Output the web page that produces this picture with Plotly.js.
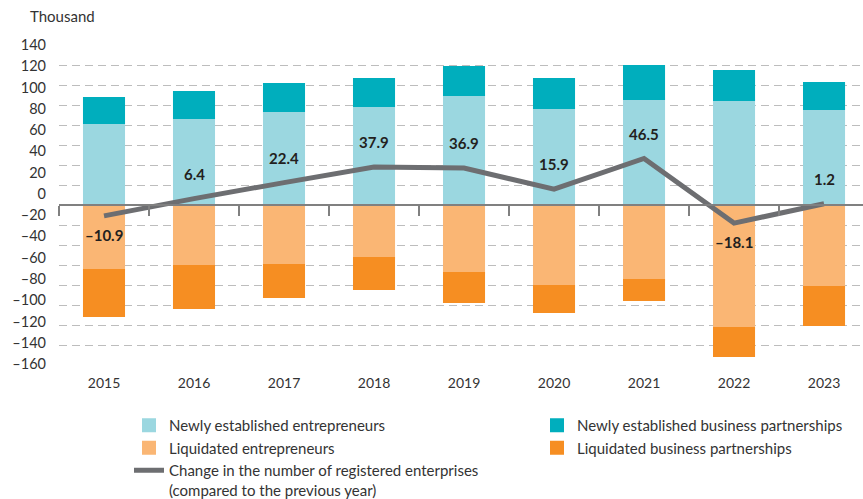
<!DOCTYPE html>
<html>
<head>
<meta charset="utf-8">
<script src="https://cdn.plot.ly/plotly-3.0.1.min.js"></script>
<style>html,body{margin:0;padding:0;background:#fff;}#chart{width:863px;height:499px;}</style>
</head>
<body>
<div id="chart"></div>
<script>
// Data (thousand)
const years = ['2015','2016','2017','2018','2019','2020','2021','2022','2023'];
const newEntrepreneurs = [82, 87, 94, 99, 110, 97, 106, 105, 96];
const newPartnerships = [25, 26, 27, 27, 28, 29, 33, 29, 26];
const liquidatedEntrepreneurs = [-65, -61, -60, -53, -68, -81, -75, -123, -82];
const liquidatedPartnerships = [-46, -42, -32, -31, -29, -26, -20, -28, -38];
const changeRegistered = [-10.9, 6.4, 22.4, 37.9, 36.9, 15.9, 46.5, -18.1, 1.2];
const yTickValues = [140, 120, 100, 80, 60, 40, 20, 0, -20, -40, -60, -80, -100, -120, -140, -160];

const fmt = v => (v < 0 ? '\u2013' + Math.abs(v) : String(v));
const fmt1 = v => (v < 0 ? '\u2013' + Math.abs(v).toFixed(1) : v.toFixed(1));

const FONT = 'Lato, "Open Sans", sans-serif';
const TXT = '#333333';
const BW = 0.445;

const traces = [
  {type:'bar', x:years, y:newEntrepreneurs, name:'Newly established entrepreneurs',
   marker:{color:'#9bd7e0', line:{color:'#9bd7e0', width:2}}, width:BW, legend:'legend', hoverinfo:'skip'},
  {type:'bar', x:years, y:liquidatedEntrepreneurs, name:'Liquidated entrepreneurs',
   marker:{color:'#fab674', line:{color:'#fab674', width:2}}, width:BW, legend:'legend', hoverinfo:'skip'},
  {type:'bar', x:years, y:newPartnerships, name:'Newly established business partnerships',
   marker:{color:'#00aebd', line:{color:'#00aebd', width:2}}, width:BW, legend:'legend2', hoverinfo:'skip'},
  {type:'bar', x:years, y:liquidatedPartnerships, name:'Liquidated business partnerships',
   marker:{color:'#f68e22', line:{color:'#f68e22', width:2}}, width:BW, legend:'legend2', hoverinfo:'skip'},
  {type:'scatter', mode:'lines', x:years, y:changeRegistered,
   name:'Change in the number of registered enterprises<br>(compared to the previous year)',
   line:{color:'#6d6e71', width:5}, legend:'legend', hoverinfo:'skip'},
  // empty helper traces so the label axis and the zero axis exist
  {type:'scatter', mode:'lines', x:[], y:[], xaxis:'x', yaxis:'y2', showlegend:false, hoverinfo:'skip'},
  {type:'scatter', mode:'lines', x:[], y:[], xaxis:'x2', yaxis:'y', showlegend:false, hoverinfo:'skip'}
];

const annotations = years.map((yr, i) => ({
  x: i, y: changeRegistered[i], xref:'x', yref:'y',
  text: '<b>' + fmt1(changeRegistered[i]) + '</b>',
  showarrow:false, yshift: changeRegistered[i] >= 0 ? 25 : -19,
  font:{family:FONT, size:15, color:'#231f20'}
}));

const xr = [-0.5, years.length - 0.5 - 0.067];

const layout = {
  width:863, height:499,
  margin:{l:59, r:0, t:44, b:133, autoexpand:false},
  paper_bgcolor:'#fff', plot_bgcolor:'#fff',
  font:{family:FONT, size:14, color:TXT},
  barmode:'relative', bargap:0.5,
  showlegend:true,
  title:{text:'Thousand', x:30/863, xanchor:'left', xref:'container', y:1-17/499, yanchor:'middle', yref:'container',
         font:{family:FONT, size:15, color:TXT}},
  xaxis:{type:'category', categoryarray:years, range:xr, showgrid:false, zeroline:false,
         showline:false, ticks:'', ticklabelstandoff:7, tickfont:{family:FONT, size:14, color:TXT}},
  xaxis2:{overlaying:'x', anchor:'free', position:0.5, range:xr, type:'linear',
          tickmode:'array', tickvals:years.map((_, i) => i - 0.5), ticks:'outside', ticklen:10,
          tickwidth:2, tickcolor:'#808080', showline:true, linecolor:'#808080', linewidth:2,
          showgrid:false, zeroline:false, showticklabels:false},
  yaxis:{range:[-161, 161], tickmode:'linear', tick0:0, dtick:20, showticklabels:false,
         showgrid:true, gridcolor:'#bdbdbd', gridwidth:1, griddash:'8px,5px', zeroline:false, ticks:''},
  yaxis2:{overlaying:'y', side:'left', range:[-161.88, 140.94], tickmode:'array',
          tickvals:yTickValues, ticktext:yTickValues.map(fmt), showgrid:false, zeroline:false,
          ticks:'', ticklabelstandoff:12, tickfont:{family:FONT, size:14.5, color:TXT}},
  legend:{x:(129-59)/804, xanchor:'left', y:(366-409)/322, yanchor:'top', orientation:'v',
          font:{family:FONT, size:15, color:TXT}, valign:'top', tracegroupgap:0, bgcolor:'rgba(0,0,0,0)'},
  legend2:{x:(537-59)/804, xanchor:'left', y:(366-409)/322, yanchor:'top', orientation:'v',
           font:{family:FONT, size:15, color:TXT}, valign:'top', tracegroupgap:0, bgcolor:'rgba(0,0,0,0)'},
  annotations: annotations
};

Plotly.newPlot('chart', traces, layout, {staticPlot:true, displayModeBar:false});
</script>
</body>
</html>
